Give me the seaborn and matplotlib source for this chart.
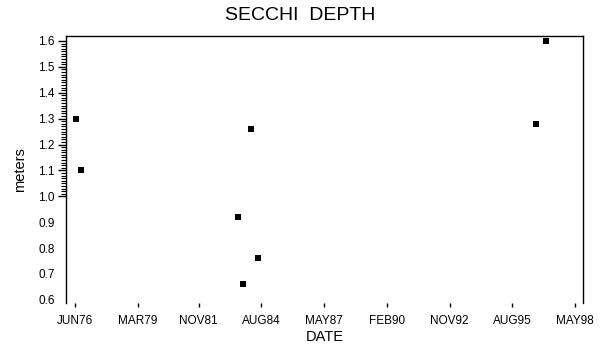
import numpy as np
import pandas as pd
import matplotlib
matplotlib.use("Agg")
import matplotlib.pyplot as plt
import matplotlib.dates as mdates
from matplotlib.ticker import FixedLocator, NullFormatter
import seaborn as sns

# ---- data ----
dates = ["1976-06-22", "1976-09-05", "1983-07-29", "1984-02-17",
         "1983-10-17", "1984-06-04", "1996-08-10", "1997-01-17"]
depth_m = [1.30, 1.10, 0.92, 1.26, 0.66, 0.76, 1.28, 1.60]

xtick_dates = ["1976-06-01", "1979-03-01", "1981-11-01", "1984-08-01",
               "1987-05-01", "1990-02-01", "1992-11-01", "1995-08-01",
               "1998-05-01"]
xtick_labels = ["JUN76", "MAR79", "NOV81", "AUG84", "MAY87", "FEB90",
                "NOV92", "AUG95", "MAY98"]
ytick_values = [0.6, 0.7, 0.8, 0.9, 1.0, 1.1, 1.2, 1.3, 1.4, 1.5, 1.6]
ytick_labels = ["0.6", "0.7", "0.8", "0.9", "1.0", "1.1", "1.2", "1.3",
                "1.4", "1.5", "1.6"]

df = pd.DataFrame({"DATE": pd.to_datetime(dates), "meters": depth_m})

sns.set_style("white")
plt.rcParams["font.family"] = ["Liberation Sans", "DejaVu Sans"]
for k in ["text.color", "axes.labelcolor", "xtick.color", "ytick.color"]:
    plt.rcParams[k] = "black"

fig = plt.figure(figsize=(6.05, 3.54), dpi=100)
ax = fig.add_axes([66 / 605, 1 - 303 / 354, (583.3 - 66) / 605, (303 - 36) / 354])

rect = [(-1, -0.8), (1, -0.8), (1, 0.8), (-1, 0.8), (-1, -0.8)]
sns.scatterplot(data=df, x="DATE", y="meters", ax=ax, marker=rect,
                s=24, color="black", linewidth=0, legend=False)

ax.set_xlim(pd.Timestamp("1976-01-09"), pd.Timestamp("1998-09-11"))
ax.set_ylim(0.588, 1.619)

ax.set_xticks(pd.to_datetime(xtick_dates))
ax.set_xticklabels(xtick_labels, fontsize=8.5)
ax.set_yticks(ytick_values)
ax.set_yticklabels(ytick_labels, fontsize=8.5)

minor = [v / 100 for v in range(100, 161) if v % 10 != 0]
ax.yaxis.set_minor_locator(FixedLocator(minor))
ax.yaxis.set_minor_formatter(NullFormatter())

for sp in ["left", "top", "right"]:
    ax.spines[sp].set_visible(True)
    ax.spines[sp].set_color("black")
    ax.spines[sp].set_linewidth(1.0)
ax.spines["bottom"].set_visible(False)

ax.tick_params(axis="x", which="major", direction="out", length=3, width=1,
               color="black", pad=6, bottom=True, top=False)
ax.tick_params(axis="y", which="major", direction="out", length=6, width=1,
               color="black", pad=2, left=True, right=False)
ax.tick_params(axis="y", which="minor", direction="out", length=3.5, width=0.8,
               color="black", left=True, right=False)

for val, tk in zip(ytick_values, ax.yaxis.get_major_ticks()):
    if val < 0.95:
        tk.tick1line.set_visible(False)

ax.set_xlabel("DATE", fontsize=10.5, labelpad=2, color="black")
ax.set_ylabel("meters", fontsize=10.5, labelpad=8, color="black")
ax.grid(False)

fig.text(0.497, 1 - 15 / 354, "SECCHI  DEPTH", ha="center", va="center",
         fontsize=14, color="black")

fig.savefig("out.png", dpi=100)
